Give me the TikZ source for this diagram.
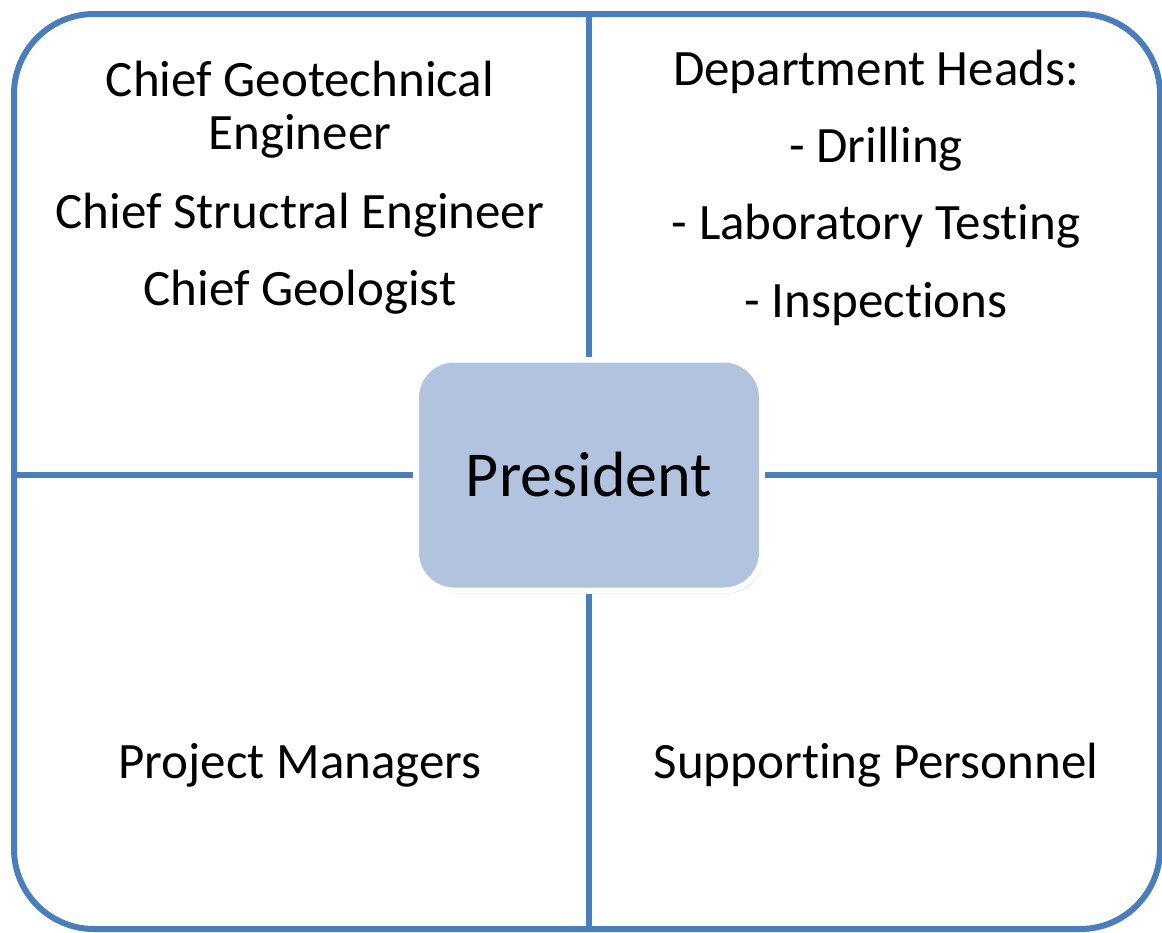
\documentclass[tikz,border=0pt]{standalone}
\usepackage{fontspec}
\setmainfont{Carlito}[Ligatures={NoCommon}]
\usetikzlibrary{shadows}
\definecolor{orgblue}{HTML}{4A7EBB}
\definecolor{presblue}{HTML}{B2C3DF}
\tikzset{
  role/.style={anchor=base, font=\fontsize{51}{54}\selectfont},
  divider/.style={draw=orgblue, line width=6pt},
  softshadow/.style={drop shadow={shadow xshift=2pt, shadow yshift=-3pt, opacity=.3}},
}
\begin{document}
\begin{tikzpicture}[x=1pt,y=-1pt]
  \useasboundingbox (0,0) rectangle (1162,932);
  \draw[divider, fill=white, rounded corners=80pt, softshadow] (14,14) rectangle (1160,929);
  \coordinate (ftop) at (589,14);
  \coordinate (fbottom) at (589,929);
  \coordinate (fleft) at (14,475);
  \coordinate (fright) at (1160,475);
  \node[rectangle, rounded corners=38pt, fill=presblue, draw=white, line width=6pt,
        minimum width=346pt, minimum height=231pt, softshadow,
        font=\fontsize{64}{70}\selectfont] (pres) at (589,475) {President};
  \draw[divider] (ftop) -- (pres.north);
  \draw[divider] (fbottom) -- (pres.south);
  \draw[divider] (fleft) -- (pres.west);
  \draw[divider] (fright) -- (pres.east);
  \node[role] (geotech) at (300,96) {Chief Geotechnical};
  \node[role] (geotech2) at (300,149) {Engineer};
  \node[role] (struct) at (300,228) {Chief Structral Engineer};
  \node[role] (geol) at (300,305) {Chief Geologist};
  \node[role] (heads) at (876,85) {Department Heads:};
  \node[role] (drill) at (876,162) {- Drilling};
  \node[role] (lab) at (876,239) {- Laboratory Testing};
  \node[role] (insp) at (876,317) {- Inspections};
  \node[role] (pm) at (300,778) {Project Managers};
  \node[role] (support) at (876,778) {Supporting Personnel};
\end{tikzpicture}
\end{document}
